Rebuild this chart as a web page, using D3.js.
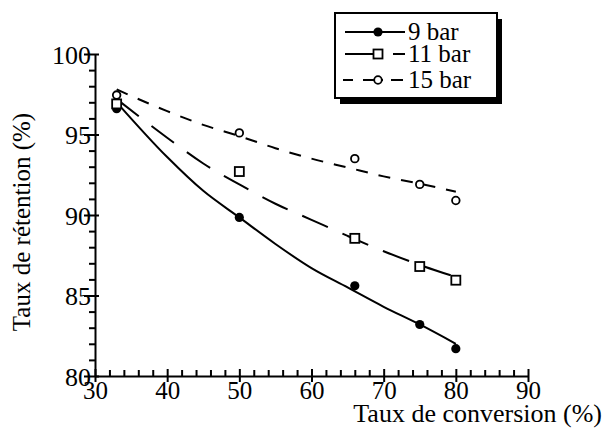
<!DOCTYPE html>
<html>
<head>
<meta charset="utf-8">
<script src="https://cdn.jsdelivr.net/npm/d3@7"></script>
<style>
  body { margin: 0; background: #fff; }
  .axe path, .axe line { stroke: #000; stroke-width: 2; }
</style>
</head>
<body>
<div id="graf"></div>
<script>
// points mesurés
const conversion = [33, 50, 66, 75, 80];
const bar9 = [96.6, 89.85, 85.6, 83.2, 81.7];
const bar11 = [96.9, 92.7, 88.55, 86.8, 85.95];
const bar15 = [97.45, 95.1, 93.5, 91.9, 90.9];

// courbes ajustées
const xCourbe = [33, 40, 45, 50, 55, 60, 65, 70, 75, 80];
const courbe9 = [97.0, 93.6, 91.5, 89.85, 88.2, 86.7, 85.5, 84.3, 83.2, 82.0];
const courbe11 = [97.2, 94.8, 93.2, 91.9, 90.7, 89.7, 88.7, 87.75, 86.9, 86.15];
const courbe15 = [97.8, 96.45, 95.6, 94.9, 94.15, 93.5, 92.95, 92.4, 91.95, 91.45];

const series = ["9 bar", "11 bar", "15 bar"];
const xMajor = [30, 40, 50, 60, 70, 80, 90];
const yMajor = [80, 85, 90, 95, 100];

const police = "'Liberation Serif', 'Times New Roman', serif";
const w = 605, h = 428;
const margin = ({ top: 54, right: 77, bottom: 52, left: 95 });

const svg = d3.select("#graf")
    .append("svg")
    .attr("width", w)
    .attr("height", h)
    .style("font-family", police);

const xScale = d3.scaleLinear().domain([30, 90]).range([margin.left, w - margin.right]);
const yScale = d3.scaleLinear().domain([80, 100]).range([h - margin.bottom, margin.top]);

const xMinor = d3.range(30, 90.1, 2).filter(v => v % 10 != 0);
const yMinor = d3.range(80, 100.1, 1).filter(v => v % 5 != 0);

// Ejes X
const y0 = h - margin.bottom;
svg.append("g").attr("class", "axe")
    .attr("transform", `translate(0,${y0})`)
    .call(d3.axisTop(xScale).tickValues(xMinor).tickSize(6).tickSizeOuter(0).tickFormat(""))
    .select(".domain").remove();
svg.append("g").attr("class", "axe")
    .attr("transform", `translate(0,${y0})`)
    .call(d3.axisTop(xScale).tickValues(xMajor).tickSize(7).tickSizeOuter(0).tickFormat(""))
    .select(".domain").remove();
const xAx = svg.append("g").attr("class", "axe")
    .attr("transform", `translate(0,${y0})`)
    .call(d3.axisBottom(xScale).tickValues(xMajor).tickSize(6).tickSizeOuter(0).tickPadding(0));
xAx.attr("font-family", police).attr("font-size", 25);
xAx.selectAll("text").attr("fill", "#000").attr("dy", "0.68em");

// Ejes Y
svg.append("g").attr("class", "axe")
    .attr("transform", `translate(${margin.left},0)`)
    .call(d3.axisLeft(yScale).tickValues(yMinor).tickSize(6).tickSizeOuter(0).tickFormat(""))
    .select(".domain").remove();
svg.append("g").attr("class", "axe")
    .attr("transform", `translate(${margin.left},0)`)
    .call(d3.axisRight(yScale).tickValues(yMajor).tickSize(4).tickSizeOuter(0).tickFormat(""))
    .select(".domain").remove();
const yAx = svg.append("g").attr("class", "axe")
    .attr("transform", `translate(${margin.left},0)`)
    .call(d3.axisLeft(yScale).tickValues(yMajor).tickSize(11).tickSizeOuter(0).tickPadding(-7));
yAx.attr("font-family", police).attr("font-size", 26);
yAx.selectAll("text").attr("fill", "#000").attr("dy", "0.35em");

// Etiquetas
svg.append("text")
    .attr("x", w - 3)
    .attr("y", h - 6)
    .attr("fill", "#000")
    .style("text-anchor", "end")
    .style("font-size", "26px")
    .text("Taux de conversion (%)");

svg.append("text")
    .attr("transform", `translate(30,${222}) rotate(-90)`)
    .attr("fill", "#000")
    .style("text-anchor", "middle")
    .style("font-size", "25px")
    .text("Taux de rétention (%)");

// Courbes
const styles = [
    { dash: null, courbe: courbe9, pts: bar9 },
    { dash: "28,16", courbe: courbe11, pts: bar11 },
    { dash: "12,11", courbe: courbe15, pts: bar15 }
];

const line = d3.line()
    .x(d => xScale(d[0]))
    .y(d => yScale(d[1]))
    .curve(d3.curveMonotoneX);

styles.forEach(s => {
    svg.append("path")
        .datum(xCourbe.map((x, i) => [x, s.courbe[i]]))
        .attr("d", line)
        .attr("fill", "none")
        .attr("stroke", "#000")
        .attr("stroke-width", 2)
        .attr("stroke-dasharray", s.dash);
});

function marker(g, k, cx, cy) {
    if (k == 0) {
        g.append("circle").attr("cx", cx).attr("cy", cy).attr("r", 4.6).attr("fill", "#000");
    } else if (k == 1) {
        g.append("rect").attr("x", cx - 4.5).attr("y", cy - 4.5).attr("width", 9).attr("height", 9)
            .attr("fill", "#fff").attr("stroke", "#000").attr("stroke-width", 1.8);
    } else {
        g.append("circle").attr("cx", cx).attr("cy", cy).attr("r", 3.8)
            .attr("fill", "#fff").attr("stroke", "#000").attr("stroke-width", 1.8);
    }
}

const pts = svg.append("g");
styles.forEach((s, k) => {
    conversion.forEach((x, i) => marker(pts, k, xScale(x), yScale(s.pts[i])));
});

// Légende
const leg = svg.append("g").attr("transform", "translate(335,13)");
leg.append("rect").attr("x", 5).attr("y", 6).attr("width", 162).attr("height", 85).attr("fill", "#000");
leg.append("rect").attr("x", 0).attr("y", 0).attr("width", 162).attr("height", 85)
    .attr("fill", "#fff").attr("stroke", "#000").attr("stroke-width", 2);

const rowsY = [19, 41, 67];
series.forEach((name, k) => {
    const yy = rowsY[k];
    const lg = leg.append("g");
    if (k == 0) {
        lg.append("line").attr("x1", 10).attr("x2", 70).attr("y1", yy).attr("y2", yy)
            .attr("stroke", "#000").attr("stroke-width", 2);
    } else if (k == 1) {
        lg.append("line").attr("x1", 10).attr("x2", 40).attr("y1", yy).attr("y2", yy)
            .attr("stroke", "#000").attr("stroke-width", 2);
        lg.append("line").attr("x1", 58).attr("x2", 70).attr("y1", yy).attr("y2", yy)
            .attr("stroke", "#000").attr("stroke-width", 2);
    } else {
        lg.append("line").attr("x1", 8).attr("x2", 18).attr("y1", yy).attr("y2", yy)
            .attr("stroke", "#000").attr("stroke-width", 2);
        lg.append("line").attr("x1", 28).attr("x2", 48).attr("y1", yy).attr("y2", yy)
            .attr("stroke", "#000").attr("stroke-width", 2);
        lg.append("line").attr("x1", 56).attr("x2", 68).attr("y1", yy).attr("y2", yy)
            .attr("stroke", "#000").attr("stroke-width", 2);
    }
    marker(lg, k, 43, yy);
    lg.append("text").attr("x", 73).attr("y", yy).attr("dy", "0.33em")
        .attr("fill", "#000")
        .style("font-size", "25px").text(name);
});
</script>
</body>
</html>
